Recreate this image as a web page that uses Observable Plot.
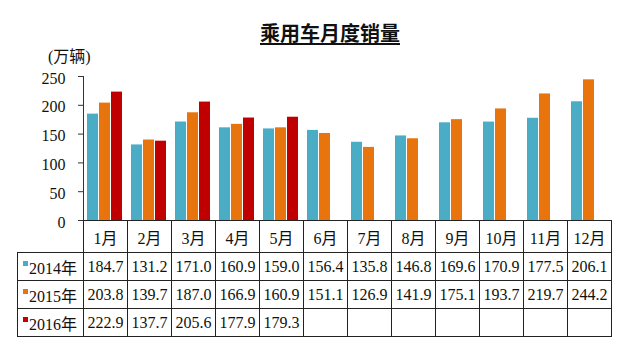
<!DOCTYPE html>
<html>
<head>
<meta charset="utf-8">
<script src="https://cdn.jsdelivr.net/npm/d3@7"></script>
<script src="https://cdn.jsdelivr.net/npm/@observablehq/plot@0.6"></script>
<style>
  html, body { margin: 0; padding: 0; background: #fff; }
  #wrap { position: relative; width: 640px; height: 359px; overflow: hidden; font-family: "Liberation Serif", "Noto Sans CJK SC", serif; color: #111; }
  #title { position: absolute; top: 20px; left: 0; width: 660px; text-align: center; font-family: "Noto Sans CJK SC", sans-serif; font-weight: bold; font-size: 20px; line-height: 26px; text-decoration: underline; text-underline-offset: 2px; }
  #unit { position: absolute; top: 47px; left: 48px; font-size: 16px; line-height: 20px; font-family: "Liberation Serif", "Noto Sans CJK SC", serif; }
  #chart { position: absolute; top: 0; left: 0; }
  #tbl { position: absolute; top: 220px; left: 17px; border-collapse: collapse; table-layout: fixed; font-size: 16px; }
  #tbl td { border: 1px solid #222; text-align: center; padding: 0; white-space: nowrap; overflow: hidden; }
  #tbl tr.head td { height: 31px; }
  #tbl tr.row td { height: 27px; }
  #tbl tr.head td.corner { border-top: none; border-left: none; }
  #tbl td.lab { text-align: left; padding-left: 5px; }
  .sw { display: inline-block; width: 5px; height: 5px; vertical-align: 8px; margin-right: 1px; }
</style>
</head>
<body>
<div id="wrap">
  <div id="chart"></div>
  <div id="title">乘用车月度销量</div>
  <div id="unit">(万辆)</div>
  <table id="tbl"></table>
</div>
<script>
const months = ["1月","2月","3月","4月","5月","6月","7月","8月","9月","10月","11月","12月"];
const years = ["2014年","2015年","2016年"];
const sales2014 = [184.7,131.2,171.0,160.9,159.0,156.4,135.8,146.8,169.6,170.9,177.5,206.1];
const sales2015 = [203.8,139.7,187.0,166.9,160.9,151.1,126.9,141.9,175.1,193.7,219.7,244.2];
const sales2016 = [222.9,137.7,205.6,177.9,179.3];
const colors = ["#4bacc6","#e8740e","#c00000"];
const yTicks = [0,50,100,150,200,250];

const series = [sales2014, sales2015, sales2016];
const rows = [];
series.forEach((vals, i) => vals.forEach((v, j) => rows.push({month: months[j], year: years[i], value: v})));

const chart = Plot.plot({
  width: 640,
  height: 240,
  marginTop: 76,
  marginBottom: 20,
  marginLeft: 78,
  marginRight: 24,
  style: {fontFamily: "'Liberation Serif','Noto Sans CJK SC',serif", fontSize: "16px", color: "#111", background: "transparent"},
  fx: {domain: months, padding: 0, axis: null},
  x: {domain: years, paddingInner: 0.08, paddingOuter: 0.36, axis: null},
  y: {domain: [0, 250]},
  color: {domain: years, range: colors},
  marks: [
    Plot.barY(rows, {fx: "month", x: "year", y: "value", fill: "year"}),
    Plot.axisY({ticks: yTicks, tickSize: 5, text: null, label: null, stroke: "#333"}),
    Plot.axisY({ticks: yTicks, tickSize: 0, tickPadding: 18, fontSize: 16, label: null, dy: 2}),
    Plot.frame({anchor: "left", facetAnchor: "left", stroke: "#333"})
  ]
});
document.getElementById("chart").appendChild(chart);

// Table aligned with the fx band scale
const fx = chart.scale("fx");
const bw = fx.bandwidth !== undefined ? fx.bandwidth : fx.step;
const firstX = fx.apply(months[0]);
const tbl = document.getElementById("tbl");
const cg = document.createElement("colgroup");
const c0 = document.createElement("col");
c0.style.width = (firstX - 17) + "px";
cg.appendChild(c0);
months.forEach(() => { const c = document.createElement("col"); c.style.width = bw + "px"; cg.appendChild(c); });
tbl.appendChild(cg);
tbl.style.width = (firstX - 17 + bw * months.length) + "px";

const head = document.createElement("tr"); head.className = "head";
const corner = document.createElement("td"); corner.className = "corner"; head.appendChild(corner);
months.forEach(m => { const td = document.createElement("td"); td.textContent = m; head.appendChild(td); });
tbl.appendChild(head);

series.forEach((vals, i) => {
  const tr = document.createElement("tr"); tr.className = "row";
  const lab = document.createElement("td"); lab.className = "lab";
  const sw = document.createElement("span"); sw.className = "sw"; sw.style.background = colors[i];
  lab.appendChild(sw); lab.appendChild(document.createTextNode(years[i]));
  tr.appendChild(lab);
  months.forEach((m, j) => {
    const td = document.createElement("td");
    td.textContent = vals[j] !== undefined ? vals[j].toFixed(1) : "";
    tr.appendChild(td);
  });
  tbl.appendChild(tr);
});
</script>
</body>
</html>
